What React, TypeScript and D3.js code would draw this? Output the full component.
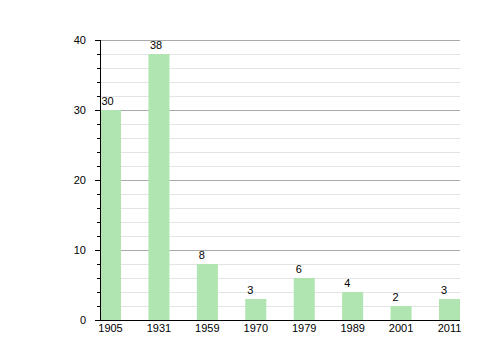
import React from "react";
import * as d3 from "d3";

const categories = ["1905", "1931", "1959", "1970", "1979", "1989", "2001", "2011"];
const values = [30, 38, 8, 3, 6, 4, 2, 3];
const yTicks = [0, 10, 20, 30, 40];
const yMinor = d3.range(0, 41, 2);

export default function App() {
  const W = 500, H = 360;
  const left = 100, right = 460, top = 40, bottom = 320;
  const x = d3.scaleBand<string>().domain(categories).range([left, right]).paddingInner(0.566).paddingOuter(0);
  const y = d3.scaleLinear().domain([0, 40]).range([bottom, top]);
  const font = "'Liberation Sans', Arial, sans-serif";
  return (
    <svg width={W} height={H} style={{ position: "absolute", left: 0, top: 0 }} fontFamily={font}>
      <rect width={W} height={H} fill="#fff" />
      {yMinor.filter(v => v % 10 !== 0).map(v => (
        <line key={"m" + v} x1={left} x2={right} y1={y(v) + 0.5} y2={y(v) + 0.5} stroke="#e4e4e4" />
      ))}
      {yTicks.filter(v => v !== 0).map(v => (
        <line key={"g" + v} x1={left} x2={right} y1={y(v) + 0.5} y2={y(v) + 0.5} stroke="#aaaaaa" />
      ))}
      {categories.map((c, i) => (
        <g key={c}>
          <rect x={x(c)!} y={y(values[i])} width={x.bandwidth()} height={bottom - y(values[i])} fill="#b0e4b0" />
          <text x={x(c)! + (values[i] >= 10 ? 1.5 : 2)} y={y(values[i]) - 5} textAnchor="start" fontSize={11} fill="#000">{values[i]}</text>
          <text x={x(c)! + x.bandwidth() / 2} y={332} textAnchor="middle" fontSize={11} fill="#000">{c}</text>
        </g>
      ))}
      {yMinor.map(v => (
        <line key={"t" + v} x1={v % 10 === 0 ? left - 5 : left - 3} x2={left} y1={y(v) + 0.5} y2={y(v) + 0.5} stroke="#000" />
      ))}
      <line x1={left + 0.5} x2={left + 0.5} y1={top} y2={bottom} stroke="#000" />
      <line x1={left - 5} x2={right} y1={bottom + 0.5} y2={bottom + 0.5} stroke="#000" />
      {yTicks.map(v => (
        <text key={"l" + v} x={86} y={y(v) + 4} textAnchor="end" fontSize={11} fill="#000">{v}</text>
      ))}
    </svg>
  );
}
